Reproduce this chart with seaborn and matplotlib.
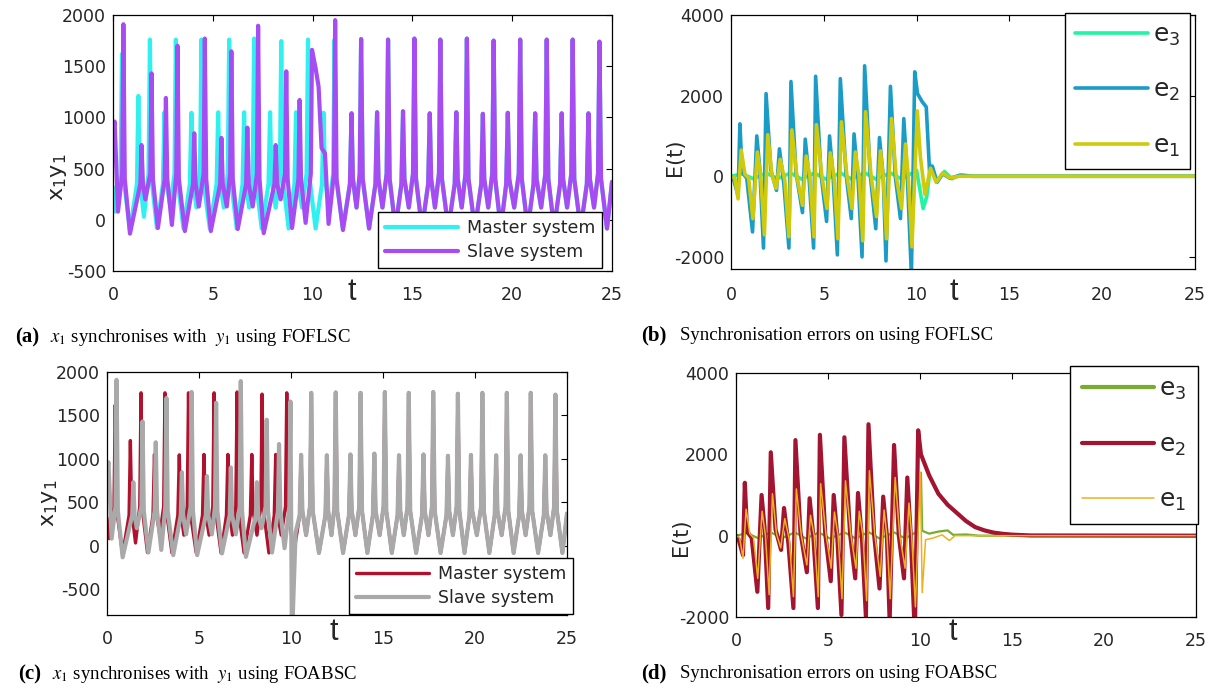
import matplotlib
matplotlib.use("Agg")
import matplotlib.pyplot as plt
import numpy as np
import seaborn as sns

# master system x1 (same trajectory in both controller runs)
t_master = [0, 0.12, 0.38, 0.45, 0.53, 0.85, 1.2, 1.27, 1.34, 1.55, 1.78, 1.85, 1.93, 2.2,
            2.5, 2.58, 2.65, 2.87,
            3.08, 3.15, 3.23, 3.53, 3.85, 3.93, 4.0, 4.18,
            4.36, 4.43, 4.51, 4.85, 5.19, 5.27, 5.34, 5.55,
            5.75, 5.82, 5.9, 6.2, 6.49, 6.57, 6.64, 6.82,
            7.0, 7.07, 7.15, 7.45, 7.79, 7.87, 7.94, 8.15,
            8.36, 8.43, 8.51, 8.8, 9.09, 9.17, 9.24, 9.47,
            9.7, 9.77, 9.85, 10.15, 10.47, 10.55, 10.62, 10.82,
            11.03, 11.1, 11.18, 11.52, 11.87, 11.95, 12.02, 12.2,
            12.36, 12.43, 12.51, 12.83, 13.15, 13.23, 13.3, 13.5,
            13.71, 13.78, 13.86, 14.15, 14.45, 14.53, 14.6, 14.82,
            15.03, 15.1, 15.18, 15.48, 15.79, 15.87, 15.94, 16.13,
            16.33, 16.4, 16.48, 16.8, 17.12, 17.2, 17.27, 17.47,
            17.66, 17.73, 17.81, 18.13, 18.45, 18.53, 18.6, 18.8,
            19.0, 19.07, 19.15, 19.43, 19.7, 19.78, 19.85, 20.1,
            20.33, 20.4, 20.48, 20.78, 21.07, 21.15, 21.22, 21.45,
            21.66, 21.73, 21.81, 22.1, 22.4, 22.48, 22.55, 22.75,
            22.96, 23.03, 23.11, 23.43, 23.74, 23.82, 23.89, 24.1,
            24.3, 24.37, 24.45, 24.75, 25]
x1_master = [320, 80, 450, 1620, 400, -100, 350, 1210, 400, 30, 450, 1760, 400, -80,
             350, 1050, 400, 130,
             450, 1760, 400, -85, 350, 1045, 400, 120,
             450, 1760, 400, -85, 350, 1050, 400, 120,
             450, 1760, 400, -85, 350, 1050, 400, 120,
             450, 1770, 400, -85, 350, 1050, 400, 120,
             450, 1745, 400, -85, 350, 1050, 400, 120,
             450, 1760, 400, -85, 350, 1045, 400, 120,
             450, 1760, 400, -85, 350, 1040, 400, 120,
             450, 1765, 400, -85, 350, 1050, 400, 120,
             450, 1760, 400, -85, 350, 1060, 400, 120,
             450, 1770, 400, -85, 350, 1040, 400, 120,
             450, 1760, 400, -85, 350, 1050, 400, 120,
             450, 1770, 400, -85, 350, 1035, 400, 120,
             450, 1750, 400, -85, 350, 1045, 400, 120,
             450, 1760, 400, -85, 350, 1040, 400, 120,
             450, 1760, 400, -85, 350, 1040, 400, 120,
             450, 1760, 400, -85, 350, 1040, 400, 120,
             450, 1740, 400, -85, 370]

# slave y1 before the controller is switched on (t < 10)
t_slave_free = [0, 0.08, 0.25, 0.46, 0.52, 0.59, 0.85, 1.37, 1.43, 1.5, 1.62, 1.87, 1.93, 2.0,
                2.25, 2.59, 2.65, 2.72, 2.95, 3.17, 3.23, 3.3, 3.6, 4.01, 4.07, 4.14, 4.3,
                4.54, 4.6, 4.67, 4.9, 5.37, 5.43, 5.5, 5.7, 5.87, 5.93, 6.0, 6.25, 6.67, 6.73,
                6.8, 7.0, 7.21, 7.27, 7.34, 7.55, 8.09, 8.15, 8.22, 8.4, 8.62, 8.68, 8.75,
                8.97, 9.29, 9.35, 9.42, 9.65, 9.91, 9.97]
y1_slave_free = [850, 960, 80, 450, 1910, 400, -135, 350, 730, 350, 200, 450, 1430, 400,
                 -80, 400, 1190, 400, -50, 450, 1700, 400, -110, 350, 845, 350, 130,
                 450, 1770, 400, -110, 350, 800, 350, 130, 450, 1645, 400, -90, 350, 900,
                 350, 130, 450, 1895, 400, -130, 350, 730, 350, 200, 450, 1450, 400,
                 -80, 400, 1170, 400, -30, 450, 1660]

# slave transient after control starts, then it follows the master
t_slave_fofl = [10.15, 10.3, 10.45, 10.62, 10.8, 11.07, 11.13, 11.2, 11.52]
y1_slave_fofl = [1480, 1300, 700, 650, -40, 450, 1950, 400, -100]
sync_fofl = 11.87
t_slave_foab = [10.05, 10.25]
y1_slave_foab = [-1100, 150]
sync_foab = 10.47

# synchronisation errors before control (shared by both runs)
t_e1_free = [0, 0.2, 0.38, 0.55, 0.75, 0.95, 1.18, 1.42, 1.6, 1.8, 1.98, 2.2, 2.43, 2.65, 2.9,
             3.12, 3.28, 3.55, 3.85, 4.05, 4.25, 4.47, 4.6, 4.9, 5.17, 5.35, 5.55, 5.76, 5.95,
             6.25, 6.52, 6.7, 6.9, 7.1, 7.25, 7.55, 7.84, 8.05, 8.2, 8.38, 8.65, 8.9, 9.19,
             9.4, 9.55, 9.75]
e1_free = [0, -50, -560, 650, 50, -50, -1050, 600, 0, -1450, 1030, 50, -300, 420, -100,
           -1500, 1150, 0, -720, 500, 0, -1500, 1280, 0, -800, 580, 0, -1550, 1350,
           0, -800, 600, 0, -1600, 1600, 0, -1000, 630, 0, -1550, 1430, 0, -800,
           800, 0, -1750]
t_e2_free = [0, 0.15, 0.38, 0.48, 0.6, 0.85, 1.16, 1.39, 1.55, 1.75, 1.89, 2.15, 2.45, 2.61,
             2.85, 3.12, 3.23, 3.5, 3.85, 4.0, 4.2, 4.45, 4.56, 4.85, 5.15, 5.31, 5.5, 5.73,
             5.89, 6.2, 6.48, 6.63, 6.85, 7.06, 7.2, 7.5, 7.8, 8.0, 8.2, 8.35, 8.59, 8.85,
             9.13, 9.31, 9.5, 9.72, 9.9]
e2_free = [0, -100, -480, 1300, 100, -50, -1380, 1000, 200, -1780, 2050, 150, -350, 680,
           -200, -1780, 2350, 100, -900, 920, 0, -1780, 2480, 50, -1120, 1000, 0, -1950,
           2420, 50, -1050, 1050, -100, -2000, 2740, 50, -1300, 960, 0, -2100, 2230, 0,
           -1050, 1430, 0, -2450, 2590]
t_e3_free = [0, 0.6, 1.2, 1.9, 2.5, 3.2, 3.8, 4.5, 5.1, 5.9, 6.5, 7.2, 7.8, 8.6, 9.2, 9.8]
e3_free = [0, 60, -60, 80, -60, 80, -70, 80, -70, 80, -70, 90, -70, 80, -70, 90]

# error tails, FOFLSC
t_e1_fofl = [10.04, 10.2, 10.45, 10.75, 11.05, 11.4, 11.8, 12.3, 25]
e1_fofl = [1620, 500, -450, 200, -150, 80, -40, 0, 0]
t_e2_fofl = [10.05, 10.3, 10.52, 10.7, 10.85, 11.1, 11.4, 11.8, 12.3, 13.0, 25]
e2_fofl = [2050, 1850, 1720, 100, 250, -150, 60, -50, 20, 0, 0]
t_e3_fofl = [10.0, 10.35, 10.55, 10.75, 11.1, 11.5, 11.9, 12.4, 13.0, 25]
e3_fofl = [150, -800, -500, 280, -120, 120, -60, 40, 0, 0]

# error tails, FOABSC
t_e1_foab = [10.02, 10.12, 10.3, 10.7, 11.2, 11.6, 11.9, 25]
e1_foab = [1550, -1400, -100, -60, 20, -120, 0, 0]
t_e2_foab = [10.05, 10.5, 11.0, 11.5, 12.0, 12.5, 13.0, 13.5, 14.0, 14.5, 15.0, 16.0, 25]
e2_foab = [2000, 1480, 1030, 760, 560, 360, 210, 130, 75, 45, 25, 5, 0]
t_e3_foab = [10.05, 10.12, 10.5, 11.0, 11.5, 11.8, 12.5, 13.2, 25]
e3_foab = [1550, 120, 50, 100, 130, 20, 30, 0, 0]

xticks = [0, 5, 10, 15, 20, 25]

sns.set_theme(style="white")
plt.rcParams["font.family"] = ["DejaVu Sans"]
plt.rcParams["axes.unicode_minus"] = False
TXT = "#262626"

tm = np.array(t_master)
xm = np.array(x1_master)


def slave(t_tail, v_tail, t_sync):
    keep = tm >= t_sync
    t = np.concatenate([t_slave_free, t_tail, tm[keep]])
    v = np.concatenate([y1_slave_free, v_tail, xm[keep]])
    return t, v


def line(ax, t, v, color, lw, label):
    sns.lineplot(x=np.asarray(t, float), y=np.asarray(v, float), ax=ax, color=color,
                 linewidth=lw, label=label, sort=False, estimator=None)


def style(ax, ylim, yticks, xpad):
    ax.set_xlim(0, 25)
    ax.set_ylim(*ylim)
    ax.set_xticks(xticks)
    ax.set_yticks(yticks)
    ax.tick_params(direction="in", top=True, right=True, length=4, width=0.8,
                   labelsize=12.5, colors="black", labelcolor=TXT)
    ax.tick_params(axis="x", pad=xpad)
    ax.tick_params(axis="y", pad=5)
    for s in ax.spines.values():
        s.set_color("black")
        s.set_linewidth(0.9)
    ax.set_xlabel("")
    ax.grid(False)


def tlabel(ax, x, y):
    ax.text(x, y, "t", transform=ax.get_xaxis_transform(), ha="center", va="center",
            fontsize=22, family="Liberation Sans", color=TXT)


def box_legend(ax, **kw):
    return ax.legend(frameon=True, fancybox=False, edgecolor="black", framealpha=1,
                     borderaxespad=0, **kw)


fig = plt.figure(figsize=(12.21, 6.87), dpi=100)
W, H = 1221, 687


def rect(l, r, t, b):
    return [l / W, 1 - b / H, (r - l) / W, (b - t) / H]


# (a)
ax_a = fig.add_axes(rect(113, 612, 15, 271))
line(ax_a, t_master, x1_master, "#30F0F0", 3.0, "Master system")
ta, va = slave(t_slave_fofl, y1_slave_fofl, sync_fofl)
line(ax_a, ta, va, "#A64CF2", 3.0, "Slave system")
style(ax_a, (-500, 2000), [-500, 0, 500, 1000, 1500, 2000], 11)
ax_a.set_ylabel("x$_1$y$_1$", fontsize=16, color=TXT)
ax_a.yaxis.set_label_coords(-0.088, 0.367)
tlabel(ax_a, 11.95, -0.082)
box_legend(ax_a, loc="lower right", bbox_to_anchor=(0.98, 0.012), fontsize=12.5,
           handlelength=4.2, borderpad=0.4, labelspacing=0.35, handletextpad=0.5)

# (b)
ax_b = fig.add_axes(rect(731, 1195, 15, 269))
line(ax_b, np.concatenate([t_e3_free, t_e3_fofl]), np.concatenate([e3_free, e3_fofl]),
     "#1FF5A3", 2.6, "e$_3$")
line(ax_b, np.concatenate([t_e2_free, t_e2_fofl]), np.concatenate([e2_free, e2_fofl]),
     "#1A9CC7", 2.6, "e$_2$")
line(ax_b, np.concatenate([t_e1_free, t_e1_fofl]), np.concatenate([e1_free, e1_fofl]),
     "#CFCB0C", 2.6, "e$_1$")
style(ax_b, (-2300, 4000), [-2000, 0, 2000, 4000], 12.5)
ax_b.set_ylabel("E(t)", fontsize=15, color=TXT)
ax_b.yaxis.set_label_coords(-0.099, 0.44)
tlabel(ax_b, 12.0, -0.09)
box_legend(ax_b, loc="upper right", bbox_to_anchor=(0.989, 1.008), fontsize=18,
           handlelength=2.9, borderpad=0.4, labelspacing=1.2, handletextpad=0.2)

# (c)
ax_c = fig.add_axes(rect(107, 567, 372, 615))
line(ax_c, t_master, x1_master, "#B0122D", 2.4, "Master system")
tc, vc = slave(t_slave_foab, y1_slave_foab, sync_foab)
line(ax_c, tc, vc, "#A9A9A9", 3.0, "Slave system")
style(ax_c, (-800, 2000), [-500, 0, 500, 1000, 1500, 2000], 11)
ax_c.set_ylabel("x$_1$y$_1$", fontsize=16, color=TXT)
ax_c.yaxis.set_label_coords(-0.102, 0.46)
tlabel(ax_c, 12.3, -0.07)
box_legend(ax_c, loc="lower right", bbox_to_anchor=(1.013, 0.004), fontsize=12.5,
           handlelength=4.2, borderpad=0.4, labelspacing=0.35, handletextpad=0.5)

# (d)
ax_d = fig.add_axes(rect(736, 1196, 373, 617))
line(ax_d, np.concatenate([t_e3_free, t_e3_foab]), np.concatenate([e3_free, e3_foab]),
     "#77AC30", 1.6, "e$_3$")
line(ax_d, np.concatenate([t_e2_free, t_e2_foab]), np.concatenate([e2_free, e2_foab]),
     "#A2142F", 3.0, "e$_2$")
line(ax_d, np.concatenate([t_e1_free, t_e1_foab]), np.concatenate([e1_free, e1_foab]),
     "#EDB120", 1.1, "e$_1$")
style(ax_d, (-2000, 4000), [-2000, 0, 2000, 4000], 11)
ax_d.set_ylabel("E(t)", fontsize=15, color=TXT)
ax_d.yaxis.set_label_coords(-0.098, 0.328)
tlabel(ax_d, 11.8, -0.06)
leg_d = box_legend(ax_d, loc="upper right", bbox_to_anchor=(1.004, 1.029), fontsize=18,
                   handlelength=2.9, borderpad=0.45, labelspacing=1.2, handletextpad=0.2)
leg_d.get_lines()[0].set_linewidth(3.0)

# captions
captions = [
    (15, 50, 342, "(a)", r"$x_1$ synchronises with  $y_1$ using FOFLSC"),
    (641, 680, 340, "(b)", "Synchronisation errors on using FOFLSC"),
    (18, 52, 679, "(c)", r"$x_1$ synchronises with  $y_1$ using FOABSC"),
    (641, 680, 678, "(d)", "Synchronisation errors on using FOABSC"),
]
for xl, xt, yb, tag, body in captions:
    fig.text(xl / W, 1 - yb / H, tag, fontsize=15, fontweight="bold",
             family="Liberation Serif", va="baseline", color="black")
    fig.text(xt / W, 1 - yb / H, body, fontsize=13.5, family="Liberation Serif",
             math_fontfamily="stix", va="baseline", color="black")

fig.savefig("out.png", dpi=100, facecolor="white")
